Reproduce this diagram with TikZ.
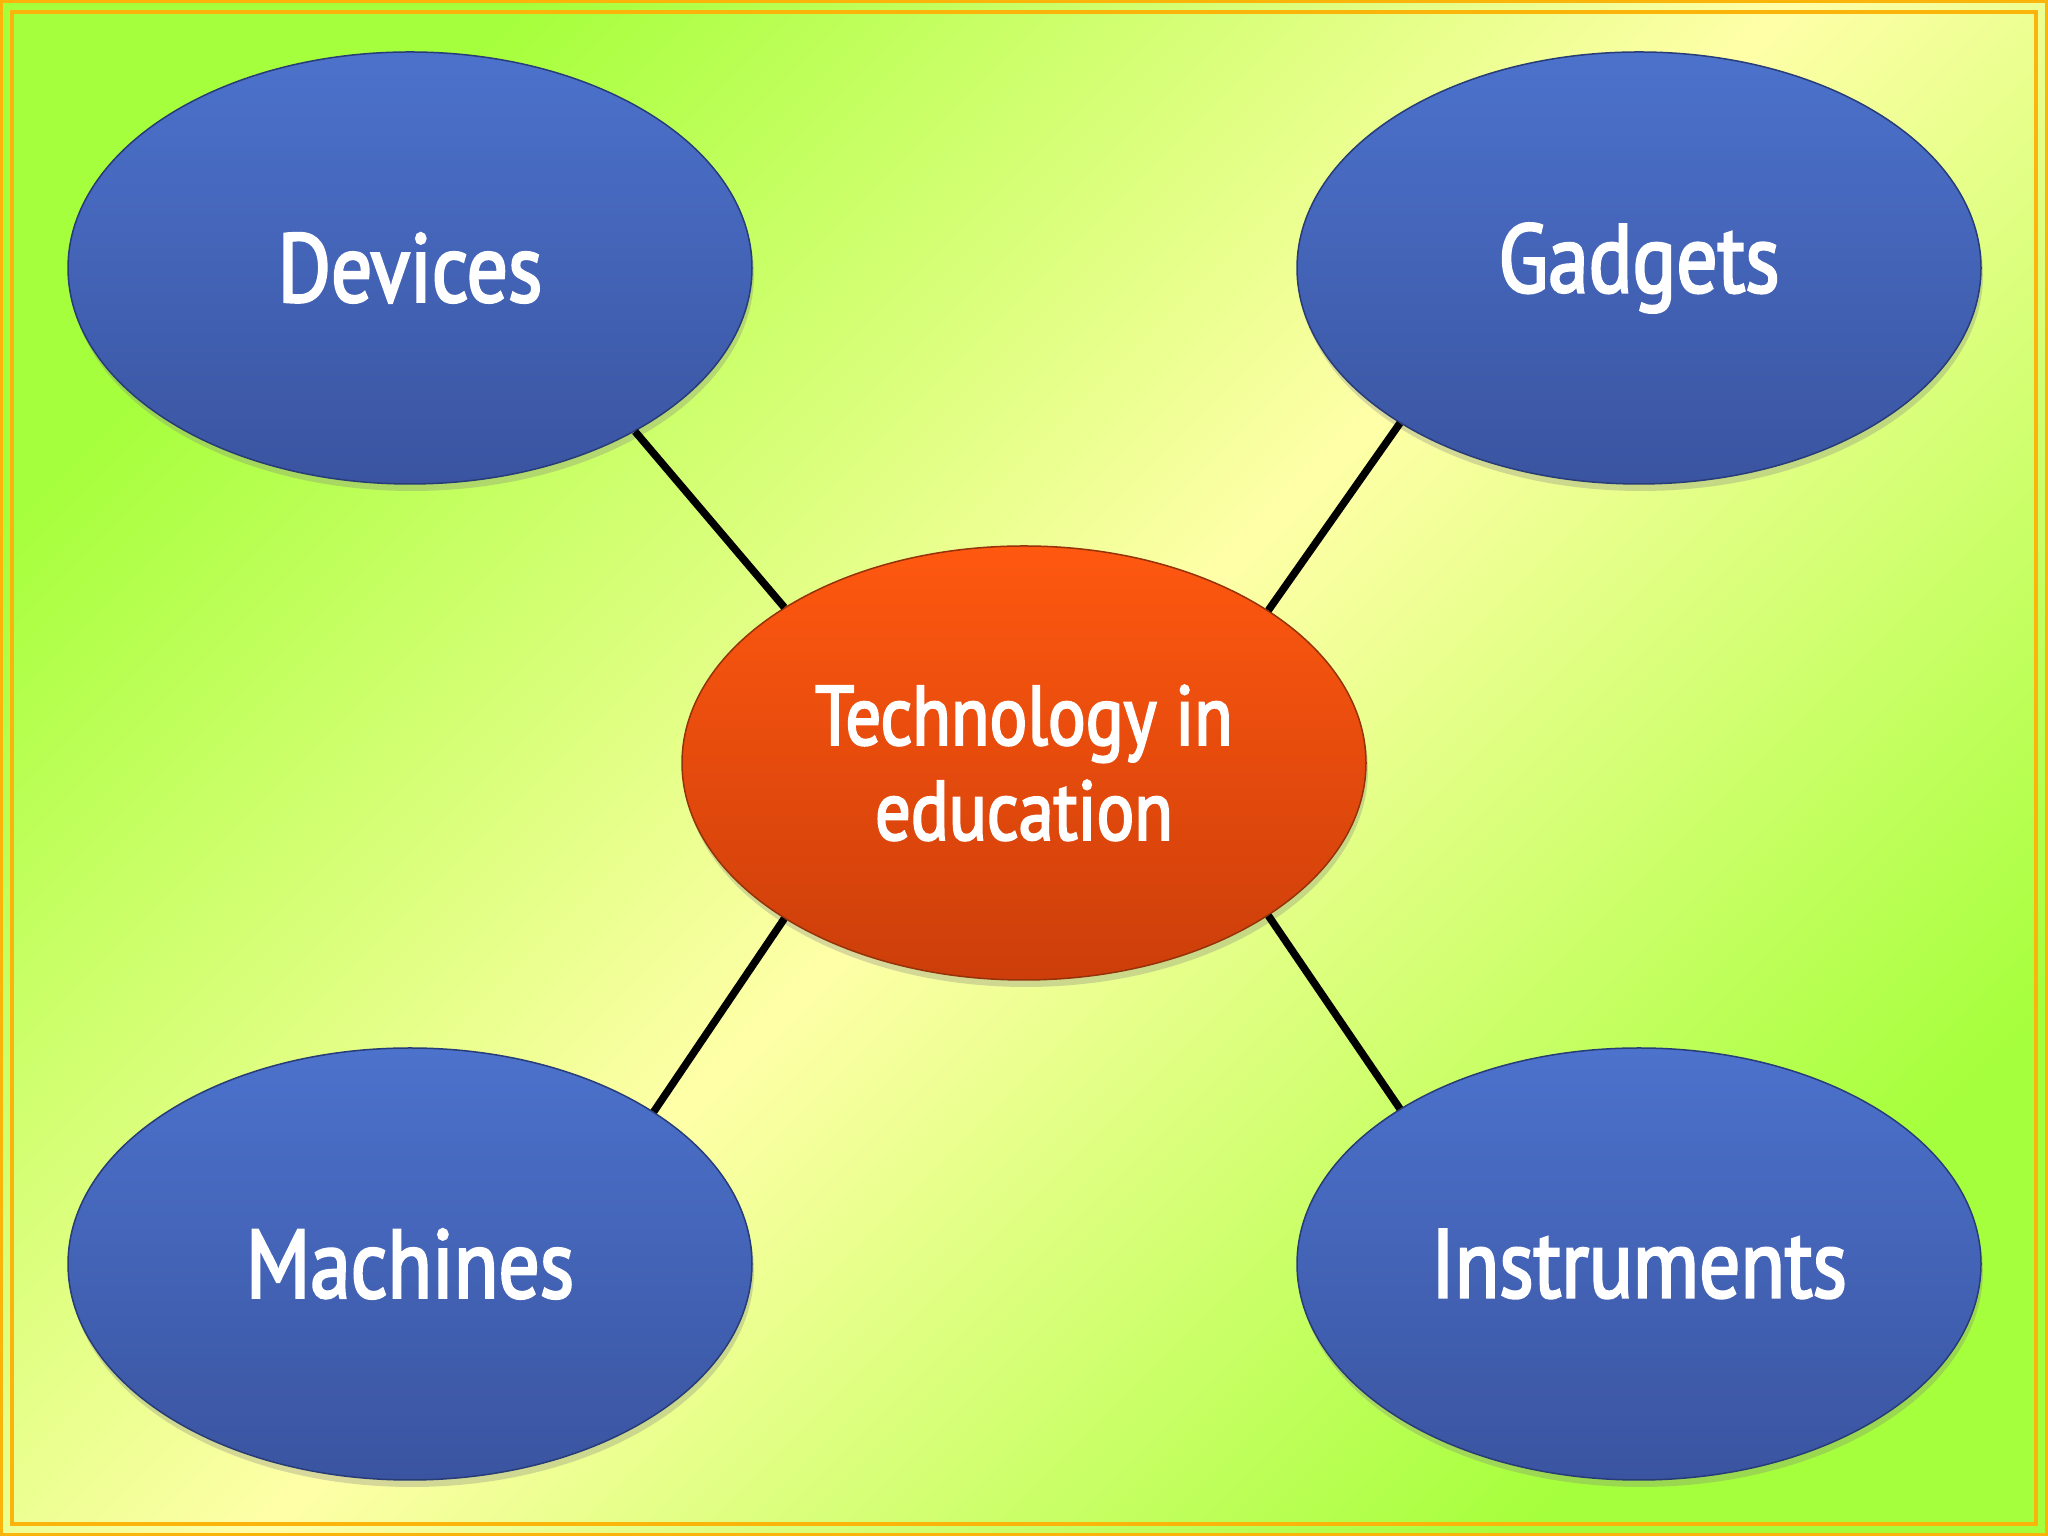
\documentclass[tikz,border=0pt]{standalone}
\usepackage{fontspec}
\setmainfont[FakeStretch=0.84,FakeBold=2.5]{PT Sans}
\usetikzlibrary{shapes.geometric,shadows}
\definecolor{bggreen}{RGB}{166,255,60}
\definecolor{bgyellow}{RGB}{255,255,168}
\definecolor{framec}{RGB}{250,180,10}
\definecolor{bluetop}{RGB}{76,114,204}
\definecolor{bluebot}{RGB}{58,84,160}
\definecolor{blueedge}{RGB}{40,60,120}
\definecolor{orgtop}{RGB}{255,88,16}
\definecolor{orgbot}{RGB}{204,62,10}
\definecolor{orgedge}{RGB}{150,50,10}
\tikzset{
  blob/.style={ellipse, minimum width=684pt, minimum height=432pt, inner sep=0pt,
    draw=blueedge, line width=1.5pt, top color=bluetop, bottom color=bluebot,
    drop shadow={shadow xshift=2pt, shadow yshift=-7pt, opacity=0.3},
    text=white, font=\fontsize{97}{110}\selectfont},
  hub/.style={blob, draw=orgedge, top color=orgtop, bottom color=orgbot,
    minimum height=434pt, align=center, font=\fontsize{84}{95}\selectfont},
  conn/.style={line width=7.5pt, black},
  framebox/.style={draw=framec}
}
\begin{document}
\begin{tikzpicture}[x=1pt,y=1pt]
\useasboundingbox (0,0) rectangle (2048,1536);
\shade[top color=bggreen, bottom color=bggreen, middle color=bgyellow, shading angle=45] (0,0) rectangle (2048,1536);
\draw[framebox, line width=3pt] (1.5,1.5) rectangle (2046.5,1534.5);
\draw[framebox, line width=4pt] (12,12) rectangle (2036,1524);

\node[blob] (dev) at (410,1268) {Devices};
\node[blob] (gad) at (1639,1268) {Gadgets};
\node[blob] (mac) at (410,272) {Machines};
\node[blob] (ins) at (1639,272) {Instruments};
\node[hub] (tech) at (1024,773) {Technology in\\education};

\draw[conn] (dev.-36) -- (tech.147);
\draw[conn] (gad.-147.6) -- (tech.32.7);
\draw[conn] (mac.32.6) -- (tech.-147.3);
\draw[conn] (ins.147.6) -- (tech.-32.7);
\end{tikzpicture}
\end{document}
